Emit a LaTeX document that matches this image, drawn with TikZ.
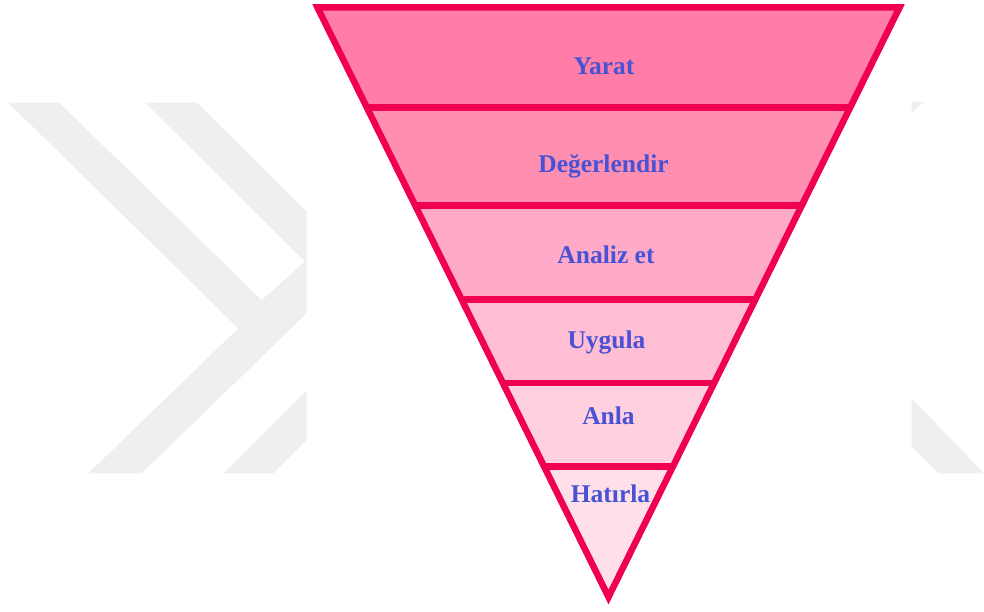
\documentclass[tikz,border=0pt]{standalone}
\usepackage{fontspec}
\setmainfont{Liberation Serif}
\usetikzlibrary{calc}
\definecolor{rim}{RGB}{240,0,80}
\definecolor{lvA}{RGB}{255,125,166}
\definecolor{lvB}{RGB}{255,143,177}
\definecolor{lvC}{RGB}{255,170,200}
\definecolor{lvD}{RGB}{255,190,211}
\definecolor{lvE}{RGB}{255,208,223}
\definecolor{lvF}{RGB}{255,224,233}
\definecolor{ink}{RGB}{72,82,212}
\definecolor{mark}{RGB}{239,239,239}
\tikzset{
  band/.style={draw=none},
  rimline/.style={draw=rim, line width=6.5pt},
  label/.style={anchor=base, text=ink, font=\fontsize{25.5}{28}\selectfont\bfseries, inner sep=0pt},
  bgmark/.style={fill=mark, draw=none}
}
\begin{document}
\begin{tikzpicture}[x=1pt,y=-1pt]
\useasboundingbox (0,0) rectangle (984,612);
% faint background emblem
\fill[bgmark] (8.3,102.7) -- (59.3,102.7) -- (261.7,300) -- (305,261.7) -- (145,102.7)
  -- (196.7,102.7) -- (306.7,211.7) -- (306.7,313.3) -- (141.7,473.3) -- (88.3,473.3)
  -- (238.3,328.3) -- cycle;
\fill[bgmark] (223.3,473.3) -- (273.3,473.3) -- (306.7,440) -- (306.7,390) -- cycle;
\fill[bgmark] (911.7,101.7) -- (924,101.7) -- (911.7,113) -- cycle;
\fill[bgmark] (911.7,398.3) -- (984,473.3) -- (938.3,473.3) -- (911.7,446.7) -- cycle;

% corners of the inverted triangle
\coordinate (TL) at (317.5,7.5);
\coordinate (TR) at (899.5,7.5);
\coordinate (AP) at (608.5,597);
% ends of the level separators
\foreach \n/\t in {1/0.16949,2/0.33559,3/0.49492,4/0.63695,5/0.77847}{
  \coordinate (L\n) at ($(TL)!\t!(AP)$);
  \coordinate (R\n) at ($(TR)!\t!(AP)$);
}
% level fills
\fill[band, lvA] (TL) -- (TR) -- (R1) -- (L1) -- cycle;
\fill[band, lvB] (L1) -- (R1) -- (R2) -- (L2) -- cycle;
\fill[band, lvC] (L2) -- (R2) -- (R3) -- (L3) -- cycle;
\fill[band, lvD] (L3) -- (R3) -- (R4) -- (L4) -- cycle;
\fill[band, lvE] (L4) -- (R4) -- (R5) -- (L5) -- cycle;
\fill[band, lvF] (L5) -- (R5) -- (AP) -- cycle;
% separators and outline
\foreach \n in {1,...,5}{ \draw[rimline] (L\n) -- (R\n); }
\draw[rimline] (TL) -- (TR) -- (AP) -- cycle;

% level names
\node[label] (yarat) at (604,75) {Yarat};
\node[label] (deger) at (603.5,173) {Değerlendir};
\node[label] (analiz) at (606,263) {Analiz et};
\node[label] (uygula) at (606.5,348) {Uygula};
\node[label] (anla) at (608.5,424) {Anla};
\node[label] (hatirla) at (610.5,502) {Hatırla};
\end{tikzpicture}
\end{document}
